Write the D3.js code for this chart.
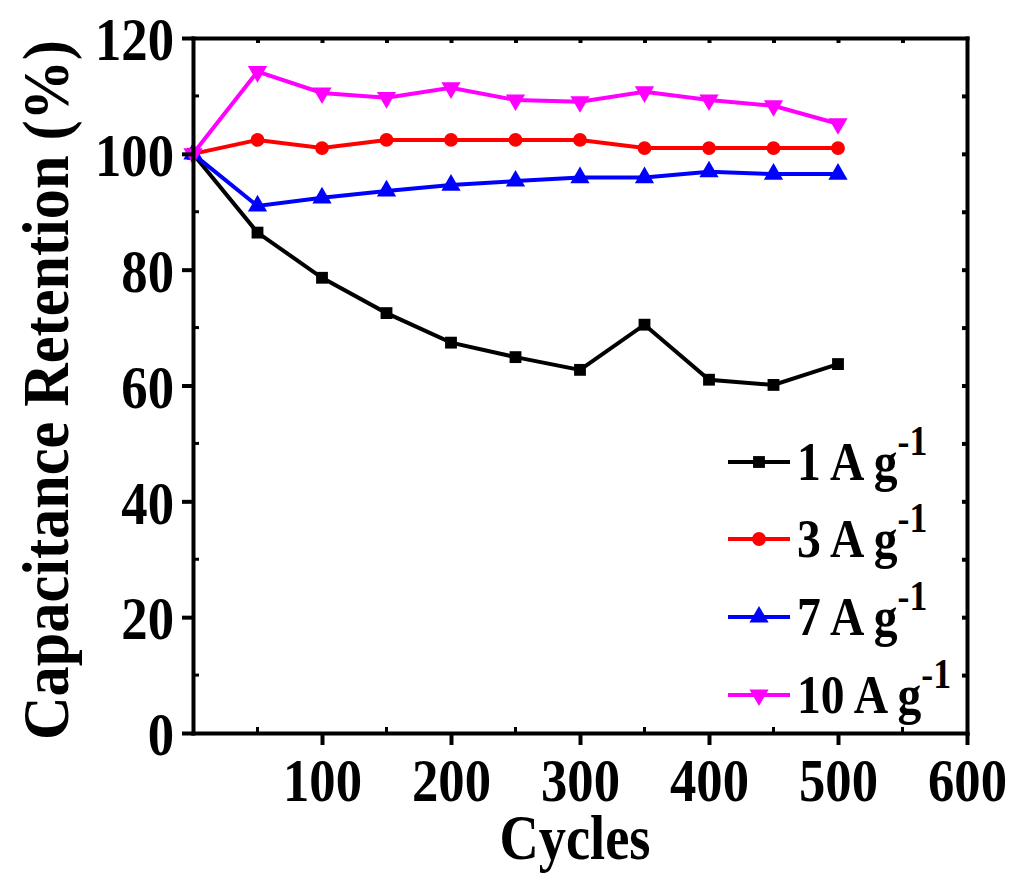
<!DOCTYPE html>
<html>
<head>
<meta charset="utf-8">
<script src="https://cdn.jsdelivr.net/npm/d3@7"></script>
<style>
  body { margin: 0; background: #fff; }
  text { font-family: "Liberation Serif", "Times New Roman", serif; font-weight: bold; }
</style>
</head>
<body>
<div id="chart"></div>
<script>
// Data
const cycles = [0, 50, 100, 150, 200, 250, 300, 350, 400, 450, 500];
const ret1 = [100, 86.4, 78.6, 72.5, 67.4, 64.9, 62.7, 70.5, 61.0, 60.1, 63.7];
const ret3 = [100, 102.4, 101.0, 102.4, 102.4, 102.4, 102.4, 101.0, 101.0, 101.0, 101.0];
const ret7 = [100, 91.0, 92.4, 93.6, 94.6, 95.3, 95.9, 95.9, 96.9, 96.5, 96.5];
const ret10 = [100, 114.2, 110.5, 109.7, 111.4, 109.3, 109.0, 110.7, 109.3, 108.3, 105.2];
const seriesNames = ['1 A g', '3 A g', '7 A g', '10 A g'];
const xTicks = [100, 200, 300, 400, 500, 600];
const yTicks = [0, 20, 40, 60, 80, 100, 120];

const W = 1015, H = 875;
const margin = { top: 38, right: 48, bottom: 142, left: 193 };
const squeeze = 0.85; // the original type is narrower than Liberation Serif

const svg = d3.select('#chart').append('svg')
    .attr('width', W)
    .attr('height', H);

const x = d3.scaleLinear().domain([0, 600]).range([margin.left, W - margin.right]);
const y = d3.scaleLinear().domain([0, 120]).range([H - margin.bottom, margin.top]);

const series = [
    { name: seriesNames[0], values: ret1, color: '#000000', symbol: d3.symbolSquare, size: 140, rot: 0 },
    { name: seriesNames[1], values: ret3, color: '#ff0000', symbol: d3.symbolCircle, size: 150, rot: 0 },
    { name: seriesNames[2], values: ret7, color: '#0000ff', symbol: d3.symbolTriangle, size: 160, rot: 0 },
    { name: seriesNames[3], values: ret10, color: '#ff00ff', symbol: d3.symbolTriangle, size: 160, rot: 180 }
];

// Lines and markers
const line = d3.line().x(d => x(d[0])).y(d => y(d[1]));
series.forEach(s => {
    const pts = cycles.map((c, i) => [c, s.values[i]]);
    svg.append('path')
        .datum(pts)
        .attr('d', line)
        .attr('fill', 'none')
        .attr('stroke', s.color)
        .attr('stroke-width', 4);
    svg.append('g').selectAll('path')
        .data(pts)
        .enter()
        .append('path')
        .attr('d', d3.symbol().type(s.symbol).size(s.size))
        .attr('transform', d => `translate(${x(d[0])},${y(d[1])}) rotate(${s.rot})`)
        .attr('fill', s.color);
});

// Axes
const xAxis = svg.append('g')
    .attr('transform', `translate(0,${y(0)})`)
    .call(d3.axisBottom(x).tickValues(xTicks).tickSize(12).tickPadding(12).tickSizeOuter(0));
const yAxis = svg.append('g')
    .attr('transform', `translate(${x(0)},0)`)
    .call(d3.axisLeft(y).tickValues(yTicks).tickSize(11).tickPadding(8).tickSizeOuter(0));
const topAxis = svg.append('g')
    .attr('transform', `translate(0,${y(120)})`)
    .call(d3.axisBottom(x).tickValues(d3.range(50, 600, 50)).tickSize(5).tickFormat('').tickSizeOuter(0));
const rightAxis = svg.append('g')
    .attr('transform', `translate(${x(600)},0)`)
    .call(d3.axisLeft(y).tickValues(d3.range(10, 120, 10)).tickSize(5).tickFormat('').tickSizeOuter(0));

[xAxis, yAxis, topAxis, rightAxis].forEach(a => {
    a.select('.domain').attr('stroke', '#000').attr('stroke-width', 4).attr('stroke-linecap', 'square');
    a.selectAll('.tick line').attr('stroke', '#000').attr('stroke-width', 4);
});
xAxis.selectAll('.tick text')
    .attr('font-size', 62)
    .attr('fill', '#000')
    .attr('transform', `scale(${squeeze},1)`);
yAxis.selectAll('.tick text')
    .attr('font-size', 62)
    .attr('fill', '#000')
    .attr('dy', '0.35em')
    .attr('x', -19 / squeeze)
    .attr('transform', `scale(${squeeze},1)`);

// Minor inner ticks on bottom and left
svg.append('g').selectAll('line')
    .data(d3.range(50, 600, 100))
    .enter().append('line')
    .attr('x1', d => x(d)).attr('x2', d => x(d))
    .attr('y1', y(0)).attr('y2', y(0) - 6)
    .attr('stroke', '#000').attr('stroke-width', 3);
svg.append('g').selectAll('line')
    .data(d3.range(10, 120, 20))
    .enter().append('line')
    .attr('x1', x(0)).attr('x2', x(0) + 6)
    .attr('y1', d => y(d)).attr('y2', d => y(d))
    .attr('stroke', '#000').attr('stroke-width', 3);

// Axis titles
svg.append('text')
    .attr('transform', `translate(575,859) scale(${squeeze},1)`)
    .attr('text-anchor', 'middle')
    .attr('font-size', 64)
    .text('Cycles');
const yTitle = svg.append('text')
    .attr('text-anchor', 'middle')
    .attr('font-size', 66)
    .text('Capacitance Retention (%)');
const titleScale = Math.min(1, 700 / yTitle.node().getComputedTextLength());
yTitle.attr('transform', `translate(68,390) rotate(-90) scale(${titleScale},1)`);

// Legend
const legendY = [462, 539, 617, 695];
const legend = svg.append('g');
series.forEach((s, i) => {
    const g = legend.append('g').attr('transform', `translate(728,${legendY[i]})`);
    g.append('line')
        .attr('x1', 0).attr('x2', 62)
        .attr('stroke', s.color).attr('stroke-width', 4);
    g.append('path')
        .attr('d', d3.symbol().type(s.symbol).size(s.size))
        .attr('transform', `translate(31,0) rotate(${s.rot})`)
        .attr('fill', s.color);
    const t = g.append('text')
        .attr('transform', `translate(69,18) scale(${squeeze},1)`)
        .attr('font-size', 56);
    t.append('tspan').text(s.name);
    t.append('tspan').attr('font-size', 42).attr('dy', -25).text('-1');
});
</script>
</body>
</html>
